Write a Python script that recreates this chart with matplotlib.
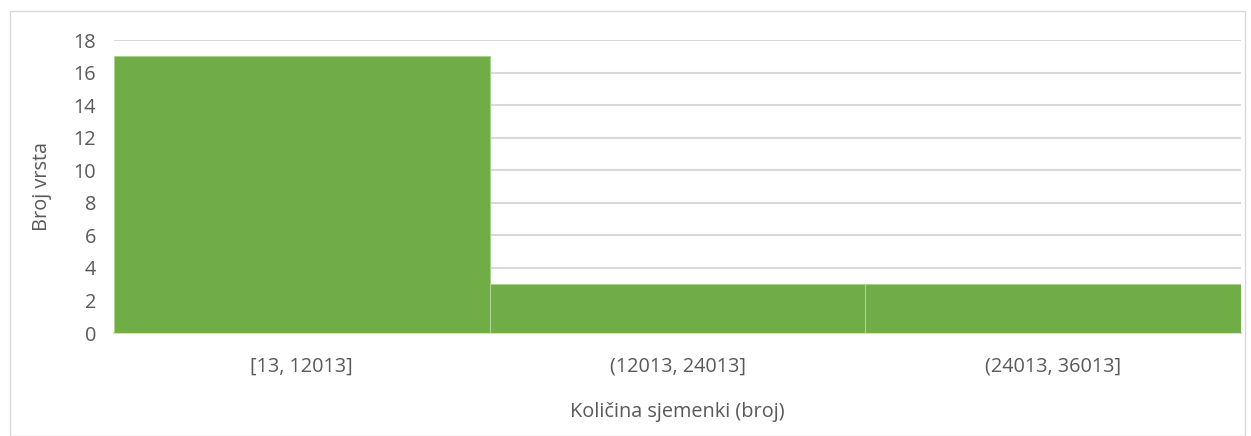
import matplotlib.pyplot as plt
from matplotlib.patches import Rectangle

# histogram bins and counts
bins = ['[13, 12013]', '(12013, 24013]', '(24013, 36013]']
counts = [17, 3, 3]
yticks = [0, 2, 4, 6, 8, 10, 12, 14, 16, 18]

plt.rcParams['font.family'] = ['Open Sans', 'DejaVu Sans']
txt = '#595959'
fs = 14.3

fig = plt.figure(figsize=(12.51, 4.36), dpi=100)
# outer chart border
fig.patches.append(Rectangle((10 / 1251, 0.0), 1235 / 1251, 1 - 11 / 436,
                             transform=fig.transFigure, fill=False,
                             edgecolor='#D9D9D9', linewidth=1))

ax = fig.add_axes([114 / 1251, 103 / 436, 1127 / 1251, 293 / 436])
x = range(len(bins))
ax.bar(x, counts, width=1.0, color='#70AD47', edgecolor='#A9D18E',
       linewidth=0.8, zorder=3)

ax.set_xlim(-0.5, len(bins) - 0.5)
ax.set_ylim(0, 18)
ax.set_yticks(yticks)
ax.set_xticks(list(x))
ax.set_xticklabels(bins)
ax.yaxis.grid(True, color='#D9D9D9', linewidth=1.5, zorder=0)
ax.set_axisbelow(True)

for s in ['top', 'right', 'left']:
    ax.spines[s].set_visible(False)
ax.spines['bottom'].set_color('#D9D9D9')
ax.spines['bottom'].set_linewidth(1.5)

ax.tick_params(axis='both', length=0, labelsize=fs, colors=txt)
ax.tick_params(axis='x', pad=17)
ax.tick_params(axis='y', pad=13)

ax.set_ylabel('Broj vrsta', fontsize=fs, color=txt, labelpad=15)
ax.set_xlabel('Količina sjemenki (broj)', fontsize=fs, color=txt, labelpad=18)

fig.savefig('out.png', dpi=100)
